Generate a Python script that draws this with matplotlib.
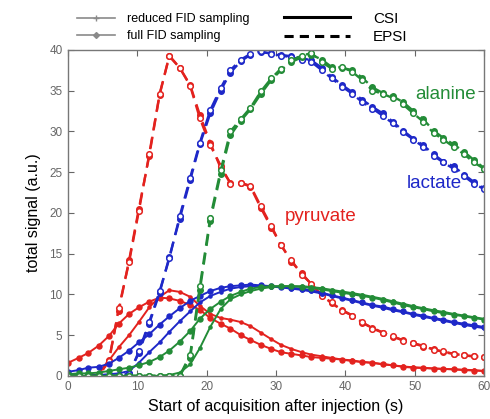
import numpy as np
import matplotlib
matplotlib.use("Agg")
import matplotlib.pyplot as plt
from matplotlib.lines import Line2D

plt.rcParams['font.family'] = ['Liberation Sans', 'DejaVu Sans']

# acquisition start times (s)
t = [0, 1.5, 2.9, 4.4, 5.9, 7.3, 8.8, 10.2, 11.7, 13.2, 14.6, 16.1, 17.6, 19.0,
     20.5, 22.0, 23.4, 24.9, 26.3, 27.8, 29.3, 30.7, 32.2, 33.7, 35.1, 36.6, 38.0,
     39.5, 41.0, 42.4, 43.9, 45.4, 46.8, 48.3, 49.8, 51.2, 52.7, 54.1, 55.6, 57.1,
     58.5, 60.0]

# EPSI, full FID sampling
pyr_epsi_full = [0, 0, 0, 0.1, 2.0, 8.0, 14.2, 20.5, 27.0, 34.5, 39.3, 37.8, 35.7, 32.0,
                 28.6, 25.5, 23.7, 23.7, 23.2, 20.6, 18.2, 16.1, 14.0, 12.6, 11.2, 9.9, 8.9,
                 8.1, 7.4, 6.5, 5.9, 5.3, 4.8, 4.4, 4.0, 3.6, 3.3, 2.9, 2.7, 2.5, 2.4, 2.3]
lac_epsi_full = [0, 0, 0, 0, 0, 0, 0.3, 2.8, 6.4, 10.2, 14.6, 19.3, 24.0, 28.4, 32.2, 35.0,
                 37.2, 38.6, 39.4, 39.7, 39.6, 39.4, 39.2, 39.0, 38.7, 37.8, 36.7, 35.7, 34.8,
                 33.9, 33.0, 32.2, 31.2, 30.1, 29.1, 28.3, 27.2, 26.3, 25.7, 24.7, 23.8, 23.0]
ala_epsi_full = [0, 0, 0, 0, 0, 0, 0, 0, 0, 0, 0, 0, 2.2, 10.5, 19.0, 24.8, 29.5, 31.3, 32.7,
                 34.6, 36.3, 37.5, 38.5, 39.1, 39.4, 38.8, 37.9, 37.8, 37.5, 36.6, 35.4, 34.7,
                 34.3, 33.6, 32.5, 31.5, 30.1, 29.2, 28.4, 27.5, 26.5, 25.5]

# EPSI, reduced FID sampling
pyr_epsi_red = [0, 0, 0, 0, 1.8, 8.3, 14.0, 20.2, 27.2, 34.6, 39.2, 37.8, 35.6, 31.6, 28.3,
                25.8, 23.6, 23.7, 23.3, 20.8, 18.4, 16.0, 14.2, 12.4, 11.3, 9.8, 9.0, 8.0,
                7.4, 6.6, 5.8, 5.3, 4.9, 4.3, 4.0, 3.7, 3.2, 3.0, 2.7, 2.5, 2.4, 2.3]
lac_epsi_red = [0, 0, 0, 0, 0, 0, 0.2, 3.0, 6.6, 10.4, 14.4, 19.6, 24.3, 28.6, 32.6, 35.3,
                37.5, 38.8, 39.5, 39.8, 39.5, 39.3, 39.1, 38.8, 38.5, 37.5, 36.5, 35.5, 34.6,
                33.6, 32.8, 31.9, 31.0, 29.9, 29.0, 28.1, 27.0, 26.2, 25.4, 24.5, 23.6, 22.9]
ala_epsi_red = [0, 0, 0, 0, 0, 0, 0, 0, 0, 0, 0, 0, 2.6, 11.0, 19.4, 25.2, 30.0, 31.5, 32.9,
                34.9, 36.5, 37.7, 38.7, 39.3, 39.6, 38.5, 37.7, 37.9, 37.3, 36.3, 35.0, 34.6,
                34.1, 33.3, 32.2, 31.2, 29.8, 29.0, 28.1, 27.2, 26.2, 25.4]

# CSI, full FID sampling
pyr_csi_full = [1.6, 2.2, 2.8, 3.7, 4.9, 6.4, 7.6, 8.4, 9.1, 9.6, 9.5, 9.2, 8.7, 8.1, 7.1,
                6.4, 5.8, 5.0, 4.4, 3.8, 3.3, 2.9, 2.7, 2.5, 2.3, 2.2, 2.1, 2.0, 1.8, 1.7,
                1.6, 1.4, 1.3, 1.1, 1.0, 0.95, 0.9, 0.85, 0.8, 0.7, 0.65, 0.6]
lac_csi_full = [0.5, 0.7, 1.0, 1.1, 1.5, 2.2, 3.1, 4.1, 5.1, 6.3, 7.3, 8.3, 9.2, 9.8, 10.4,
                10.8, 11.0, 11.1, 11.2, 11.1, 11.0, 10.9, 10.8, 10.7, 10.5, 10.2, 9.9, 9.6,
                9.3, 9.0, 8.7, 8.5, 8.2, 7.9, 7.6, 7.4, 7.1, 6.9, 6.6, 6.4, 6.2, 6.0]
ala_csi_full = [0.2, 0.3, 0.3, 0.4, 0.6, 0.8, 1.0, 1.3, 1.7, 2.3, 3.1, 4.2, 5.5, 7.0, 8.2,
                9.1, 9.8, 10.3, 10.7, 10.9, 11.0, 11.0, 11.0, 10.9, 10.8, 10.6, 10.4, 10.2,
                10.0, 9.8, 9.6, 9.3, 9.0, 8.7, 8.4, 8.2, 7.9, 7.7, 7.5, 7.3, 7.1, 6.9]

# CSI, reduced FID sampling
pyr_csi_red = [0, 0, 0, 0.2, 1.9, 3.5, 5.0, 6.6, 8.4, 9.7, 10.5, 10.3, 9.7, 8.6, 7.6, 7.1,
               6.9, 6.6, 6.1, 5.3, 4.5, 3.8, 3.3, 2.9, 2.6, 2.4, 2.2, 2.0, 1.9, 1.7, 1.6,
               1.45, 1.3, 1.15, 1.05, 1.0, 0.9, 0.85, 0.8, 0.75, 0.7, 0.6]
lac_csi_red = [0, 0, 0, 0.1, 0.2, 0.3, 0.6, 1.6, 2.9, 4.1, 5.4, 6.7, 7.9, 9.0, 9.8, 10.3,
               10.7, 10.9, 11.0, 11.0, 10.95, 10.85, 10.7, 10.55, 10.35, 10.1, 9.8, 9.5,
               9.2, 8.9, 8.6, 8.35, 8.05, 7.8, 7.5, 7.25, 7.0, 6.75, 6.5, 6.25, 6.05, 5.85]
ala_csi_red = [0, 0, 0, 0, 0, 0, 0, 0, 0, 0, 0.1, 0.4, 1.4, 3.4, 6.0, 8.2, 9.4, 10.0, 10.4,
               10.7, 10.9, 11.0, 11.0, 11.0, 10.9, 10.75, 10.55, 10.35, 10.15, 9.95, 9.7,
               9.45, 9.15, 8.85, 8.55, 8.3, 8.05, 7.85, 7.6, 7.4, 7.2, 7.0]

red = '#e3221e'
blue = '#1e28c8'
green = '#238c37'

fig = plt.figure(figsize=(4.9, 4.19), dpi=100)
ax = fig.add_axes([0.139, 0.103, 0.849, 0.778])

series = [
    (pyr_csi_full, pyr_csi_red, pyr_epsi_full, pyr_epsi_red, red),
    (lac_csi_full, lac_csi_red, lac_epsi_full, lac_epsi_red, blue),
    (ala_csi_full, ala_csi_red, ala_epsi_full, ala_epsi_red, green),
]
for csi_f, csi_r, epsi_f, epsi_r, c in series:
    ax.plot(t, csi_r, color=c, lw=1.4, marker='.', ms=4.5)
    ax.plot(t, csi_f, color=c, lw=1.4, marker='o', ms=3.6)
    ax.plot(t, epsi_f, color=c, lw=1.7, ls=(0, (5, 3)), marker='o', ms=4)
    ax.plot(t, epsi_r, color=c, lw=1.7, ls=(0, (5, 3)), marker='o', ms=4,
            mfc='white', mew=1.1)

ax.text(50.0, 34.5, 'alanine', color=green, fontsize=13.5, va='center')
ax.text(48.8, 23.6, 'lactate', color=blue, fontsize=13.5, va='center')
ax.text(31.2, 19.5, 'pyruvate', color=red, fontsize=13.5, va='center')

ax.set_xlim(0, 60)
ax.set_ylim(0, 40)
ax.set_xticks([0, 10, 20, 30, 40, 50, 60])
ax.set_yticks([0, 5, 10, 15, 20, 25, 30, 35, 40])
ax.tick_params(direction='in', top=True, right=True, length=4, width=0.8,
               color='#666666', labelcolor='#666666', labelsize=8.5, pad=4)
for sp in ax.spines.values():
    sp.set_color('#777777')
    sp.set_linewidth(1.0)
ax.set_xlabel('Start of acquisition after injection (s)', fontsize=11.5, labelpad=4)
ax.set_ylabel('total signal (a.u.)', fontsize=11.5, labelpad=6)

# legends above the axes
h1 = [Line2D([], [], color='#8a8a8a', lw=1.2, marker='+', ms=4),
      Line2D([], [], color='#8a8a8a', lw=1.2, marker='D', ms=3)]
leg1 = fig.legend(h1, ['reduced FID sampling', 'full FID sampling'], loc='upper left',
                  bbox_to_anchor=(0.158, 0.968), frameon=False, fontsize=9,
                  handlelength=3.0, handletextpad=1.0, labelspacing=0.38,
                  borderpad=0, borderaxespad=0)
h2 = [Line2D([], [], color='black', lw=2.2),
      Line2D([], [], color='black', lw=2.2, ls=(0, (3, 2)))]
leg2 = fig.legend(h2, ['CSI', 'EPSI'], loc='upper left',
                  bbox_to_anchor=(0.58, 0.972), frameon=False, fontsize=11,
                  handlelength=4.3, handletextpad=1.5, labelspacing=0.27,
                  borderpad=0, borderaxespad=0)

plt.savefig('out.png', dpi=100)
